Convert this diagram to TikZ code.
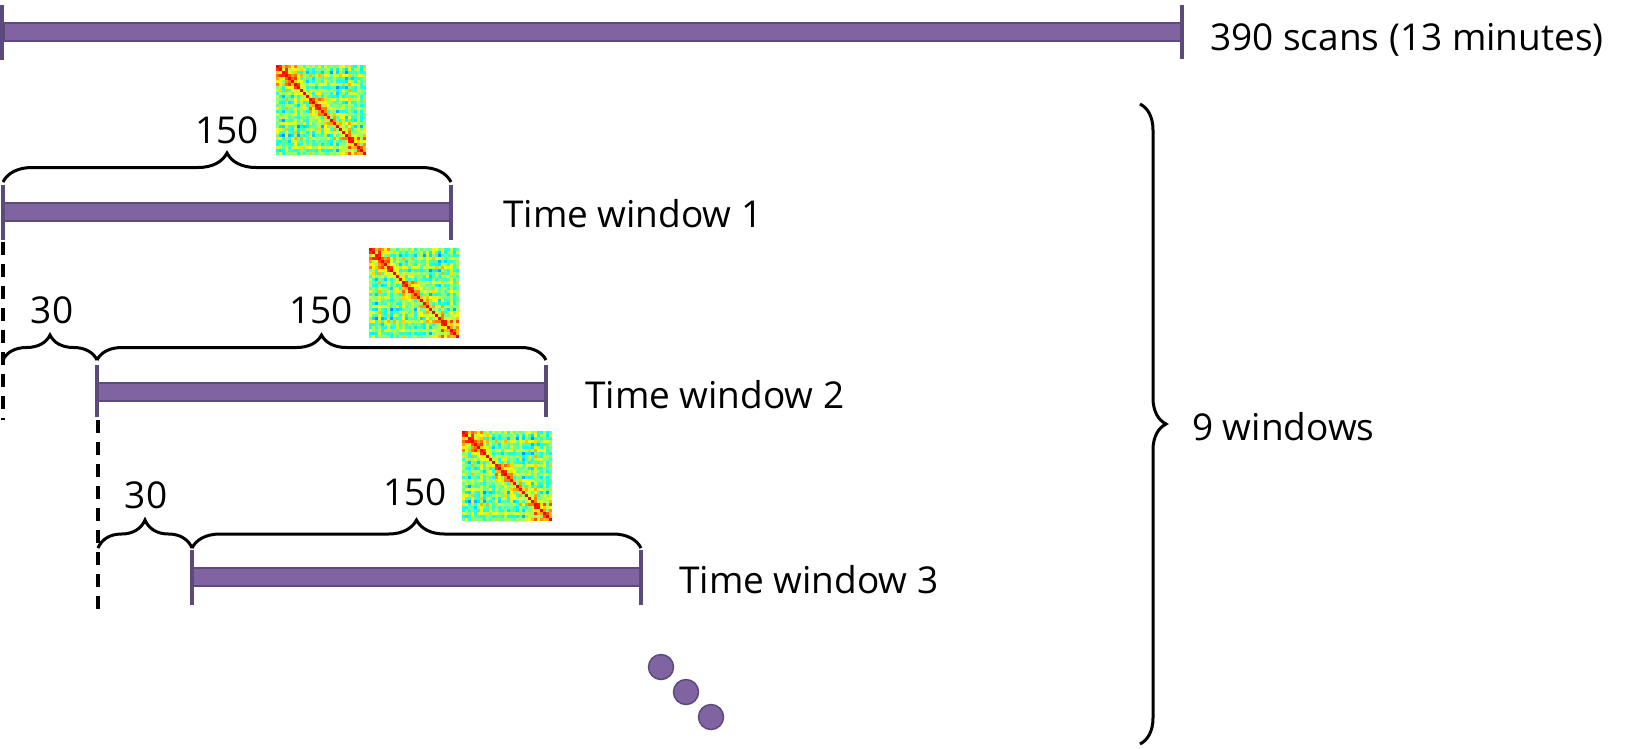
\documentclass[tikz,border=0pt]{standalone}
\usepackage{fontspec}
\setmainfont{Open Sans}
\usetikzlibrary{decorations.pathreplacing}
\definecolor{barfill}{HTML}{8064A2}
\definecolor{barline}{HTML}{5C4A7C}
\tikzset{
 bar/.style={draw=barline, fill=barfill, line width=2pt, rectangle, inner sep=0pt, minimum height=18pt, anchor=west},
 tickln/.style={draw=barline, line width=4pt},
 brc/.style={decorate, decoration={brace, amplitude=#1}, line width=3pt, draw=black},
 lbl/.style={font=\fontsize{37}{42}\selectfont, anchor=base, inner sep=0pt},
 dashln/.style={draw=black, line width=3.5pt, dash pattern=on 13pt off 9pt},
 dotnode/.style={circle, fill=barfill, draw=barline, line width=1.5pt, minimum size=25pt, inner sep=0pt},
}
\def\setblk#1#2{\ifnum#2<8 \def#1{1}\else\ifnum#2<11 \def#1{0}\else\ifnum#2<17 \def#1{2}\else\ifnum#2<23 \def#1{0}\else\def#1{3}\fi\fi\fi\fi}
\newcommand\hmap[2]{%
 \foreach \i in {0,...,29}{\foreach \j in {0,...,29}{%
   \pgfmathtruncatemacro\aa{min(\i,\j)}%
   \pgfmathtruncatemacro\cc{max(\i,\j)}%
   \pgfmathtruncatemacro\dd{\cc-\aa}%
   \setblk\ba\i \setblk\bc\j
   \def\bst{0}%
   \ifnum\ba=\bc \ifnum\ba>0 \def\bst{0.12}\fi\fi
   \ifnum\dd=0 \def\vv{0.88}\else
   \pgfmathsetmacro\hh{abs(sin(\aa*127.1+\cc*311.7)*437.585)}%
   \pgfmathsetmacro\hh{\hh-floor(\hh)}%
   \pgfmathsetmacro\vv{0.49+0.07*(sin(137*\aa+20)+sin(137*\cc+20))+0.22*(\hh-0.5)+\bst+0.2*exp(-\dd/2)}\fi
   \pgfmathsetmacro\rr{max(0,min(1,1.5-abs(4*\vv-3)))}%
   \pgfmathsetmacro\gg{max(0,min(1,1.5-abs(4*\vv-2)))}%
   \pgfmathsetmacro\bb{max(0,min(1,1.5-abs(4*\vv-1)))}%
   \definecolor{hm}{rgb}{\rr,\gg,\bb}%
   \fill[hm] ({#1+\j*3},{#2+\i*3}) rectangle ++(3.15,3.15);
 }}}
\begin{document}
\begin{tikzpicture}[x=1pt,y=-1pt]
\useasboundingbox (0,0) rectangle (1625,748);
% top bar
\node[bar, minimum width=1179pt] (b0) at (3,32) {};
\draw[tickln] (2,5) -- (2,60);
\draw[tickln] (1182,5) -- (1182,59);
\node[lbl, anchor=base west] (t0) at (1210,50) {390 scans (13 minutes)};
% window 1
\node[bar, minimum width=448pt] (b1) at (3,211.5) {};
\draw[tickln] (3,185) -- (3,240);
\draw[tickln] (451,185) -- (451,240);
\coordinate (a1) at (3,182); \coordinate (c1) at (451,182);
\draw[brc=29pt] (a1) -- (c1);
\node[lbl] (l1) at (227,143) {150};
\node[lbl, anchor=base west] (t1) at (503,227) {Time window 1};
\hmap{276}{65}
\draw[dashln] (3,242) -- (3,420);
% window 2
\node[bar, minimum width=449pt] (b2) at (97,392) {};
\draw[tickln] (97,365) -- (97,417);
\draw[tickln] (546,365) -- (546,417);
\coordinate (a2) at (3,360); \coordinate (m2) at (97,360); \coordinate (c2) at (546,360);
\draw[brc=25pt] (a2) -- (m2);
\draw[brc=25pt] (m2) -- (c2);
\node[lbl] (l2a) at (52,323) {30};
\node[lbl] (l2b) at (321,323) {150};
\node[lbl, anchor=base west] (t2) at (585,408) {Time window 2};
\hmap{369}{248}
\draw[dashln] (98,420) -- (98,611);
% window 3
\node[bar, minimum width=449pt] (b3) at (192,577) {};
\draw[tickln] (192,550) -- (192,605);
\draw[tickln] (641,550) -- (641,605);
\coordinate (a3) at (98,548); \coordinate (m3) at (192,548); \coordinate (c3) at (641,548);
\draw[brc=28pt] (a3) -- (m3);
\draw[brc=28pt] (m3) -- (c3);
\node[lbl] (l3a) at (146,508) {30};
\node[lbl] (l3b) at (415,505) {150};
\node[lbl, anchor=base west] (t3) at (679,593) {Time window 3};
\hmap{462}{431}
% dots
\node[dotnode] (d1) at (661,667) {};
\node[dotnode] (d2) at (686,692) {};
\node[dotnode] (d3) at (711,717) {};
% big brace
\coordinate (bt) at (1140,104); \coordinate (bb) at (1140,744);
\draw[brc=26pt] (bt) -- (bb);
\node[lbl, anchor=base west] (t9) at (1192,440) {9 windows};
\end{tikzpicture}
\end{document}
